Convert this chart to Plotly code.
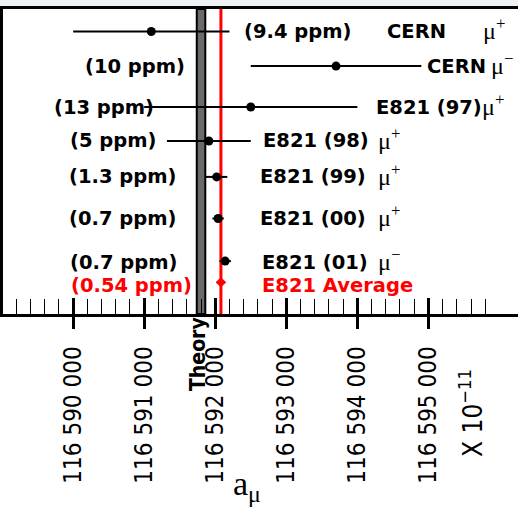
import plotly.graph_objects as go

# ---------------- data ----------------
exp_names = ["CERN", "CERN", "E821 (97)", "E821 (98)", "E821 (99)", "E821 (00)", "E821 (01)", "E821 Average"]
charges = ["+", "−", "+", "+", "+", "+", "−", ""]
values = [116591100, 116593700, 116592500, 116591910, 116592020, 116592040, 116592140, 116592080]
errors = [1100, 1200, 1500, 590, 150, 80, 80, 60]
precision = ["(9.4 ppm)", "(10 ppm)", "(13 ppm)", "(5 ppm)", "(1.3 ppm)", "(0.7 ppm)", "(0.7 ppm)", "(0.54 ppm)"]
theory_value = 116591800
theory_error = 60
major_ticks = [116590000, 116591000, 116592000, 116593000, 116594000, 116595000]
tick_labels = ["116 590 000", "116 591 000", "116 592 000", "116 593 000", "116 594 000", "116 595 000"]

# ---------------- layout helpers ----------------
W, H = 518, 508
ML, MT, MB = 2.5, 8.5, 194
PW, PH = W - ML, H - MT - MB
x_range = [116589013, 116596261]

row_y = [22.5, 57.2, 98.2, 132.2, 168.2, 209.8, 252.5, 273.8]
text_dy = [0, 0, 0, 0, 0, 0, 1, 3.5]
ppm_x = [242, 83, 52, 68, 67, 67, 68, 69]
name_x = [385, 425, 374, 261, 258, 258, 260, 260]
mu_x = [481, 489, 480, 376, 376, 376, 376, None]


def px(xp):
    return (xp - ML) / PW


def py(yp):
    return (MT + PH - yp) / PH


minor_vals = [v for v in range(116589200, 116596000, 200) if v % 1000 != 0]

fig = go.Figure()

n = len(values)
fig.add_trace(go.Scatter(
    x=values[:n - 1], y=row_y[:n - 1], mode="markers",
    marker=dict(color="black", size=9),
    error_x=dict(type="data", array=errors[:n - 1], color="black", thickness=2, width=0),
    showlegend=False, hoverinfo="x",
))
fig.add_trace(go.Scatter(
    x=values[n - 1:], y=row_y[n - 1:], mode="markers",
    marker=dict(color="red", size=8, symbol="diamond"),
    error_x=dict(type="data", array=errors[n - 1:], color="red", thickness=2, width=0),
    showlegend=False, hoverinfo="x",
))
# helper trace for overlay axis
fig.add_trace(go.Scatter(x=[values[0]], y=[row_y[0]], xaxis="x2", mode="markers",
                         marker=dict(opacity=0), showlegend=False, hoverinfo="skip"))

# theory band and average line
fig.add_shape(type="rect", xref="x", yref="paper",
              x0=theory_value - theory_error, x1=theory_value + theory_error, y0=0, y1=1,
              fillcolor="#6a6a6a", line=dict(color="black", width=2), layer="below")
fig.add_shape(type="line", xref="x", yref="paper",
              x0=values[-1], x1=values[-1], y0=0, y1=1,
              line=dict(color="red", width=3), layer="below")
# top strip
fig.add_shape(type="rect", xref="paper", yref="paper", x0=-0.01, x1=1.01, y0=1.004, y1=1.04,
              fillcolor="#eef2f7", line=dict(width=0), layer="below")

bold = "DejaVu Sans"
for i in range(n):
    col = "red" if i == n - 1 else "black"
    yy = row_y[i] + text_dy[i]
    fig.add_annotation(x=px(ppm_x[i]), xref="paper", y=yy, yref="y", xanchor="left", yanchor="middle",
                       text="<b>" + precision[i] + "</b>", showarrow=False,
                       font=dict(family=bold, size=19.5, color=col))
    fig.add_annotation(x=px(name_x[i]), xref="paper", y=yy, yref="y", xanchor="left", yanchor="middle",
                       text="<b>" + exp_names[i] + "</b>", showarrow=False,
                       font=dict(family=bold, size=19.5, color=col))
    if mu_x[i] is not None:
        fig.add_annotation(x=px(mu_x[i]), xref="paper", y=yy - 2, yref="y", xanchor="left", yanchor="middle",
                           text="μ<sup>" + charges[i] + "</sup>", showarrow=False,
                           font=dict(family="Liberation Serif", size=24, color="black"))

narrow = "DejaVu Sans Condensed, sans-serif"
fig.add_annotation(x=theory_value, xref="x", y=0, yref="paper", xanchor="center", yanchor="top",
                   xshift=-3, yshift=-1, textangle=-90, text="<b>Theory</b>", showarrow=False,
                   font=dict(family=narrow, size=21, color="black"))
fig.add_annotation(x=px(471), xref="paper", y=py(413), yref="paper", xanchor="center", yanchor="middle",
                   textangle=-90, text="X 10<sup>−11</sup>", showarrow=False,
                   font=dict(family=narrow, size=26, color="black"))
fig.add_annotation(x=px(247), xref="paper", y=py(486), yref="paper", xanchor="center", yanchor="middle",
                   text="a<sub>μ</sub>", showarrow=False,
                   font=dict(family="Liberation Serif", size=34, color="black"))

fig.update_layout(
    width=W, height=H,
    margin=dict(l=ML, r=0, t=MT, b=MB, pad=0),
    paper_bgcolor="white", plot_bgcolor="white",
    showlegend=False,
    xaxis=dict(range=x_range, showgrid=False, zeroline=False,
               showline=True, linecolor="black", linewidth=2.5, mirror=True,
               tickmode="array", tickvals=major_ticks, ticktext=tick_labels,
               ticks="outside", ticklen=12, tickwidth=2.5, tickcolor="black",
               tickangle=-90, ticklabelstandoff=8,
               tickfont=dict(family=narrow, size=24, color="black"),
               minor=dict(tickmode="array", tickvals=minor_vals, ticks="inside",
                          ticklen=15, tickwidth=1.3, tickcolor="black", showgrid=False)),
    xaxis2=dict(overlaying="x", matches="x", anchor="y", side="bottom", range=x_range,
                showgrid=False, zeroline=False, showline=False, showticklabels=False,
                tickmode="array", tickvals=major_ticks,
                ticks="inside", ticklen=16, tickwidth=2.5, tickcolor="black"),
    yaxis=dict(range=[PH, 0], showgrid=False, zeroline=False, showticklabels=False,
               ticks="", showline=True, linecolor="black", linewidth=2.5, mirror=False),
)

fig.write_html("out.html")
